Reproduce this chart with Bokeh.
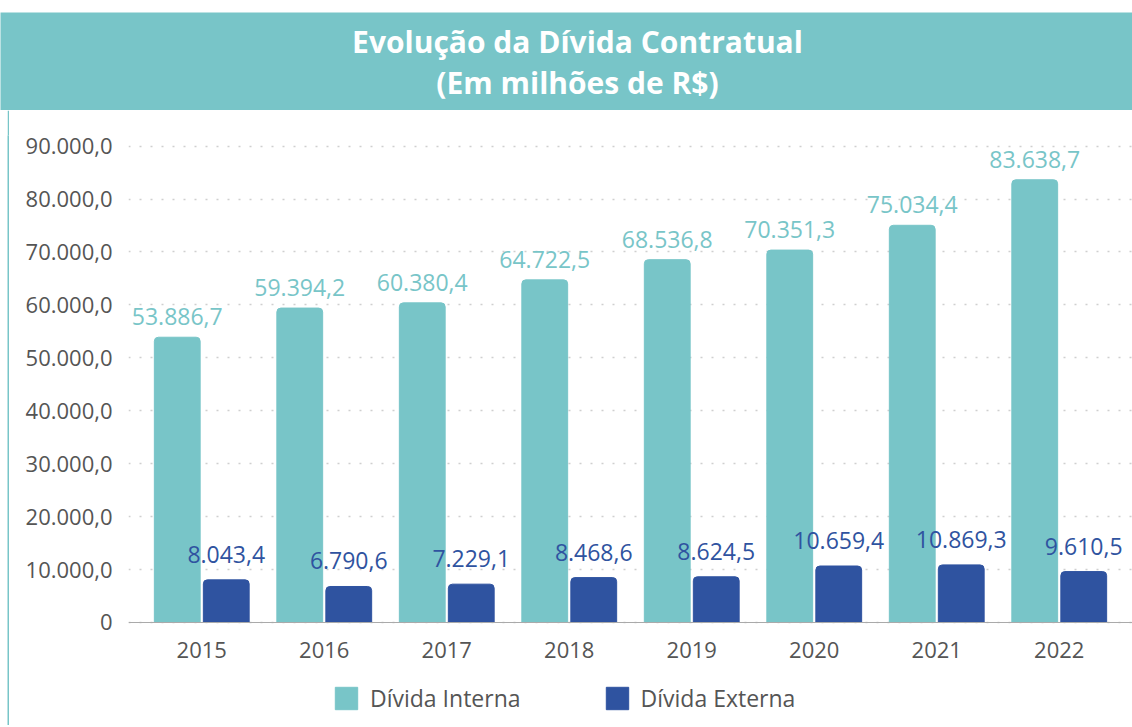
from bokeh.plotting import figure
from bokeh.models import (ColumnDataSource, FactorRange, Range1d, FixedTicker,
                          Legend, LegendItem, LabelSet, Spacer)
from bokeh.transform import dodge
from bokeh.layouts import column, row
from bokeh.core.properties import value
from bokeh.embed import file_html
from bokeh.resources import INLINE

years = ["2015", "2016", "2017", "2018", "2019", "2020", "2021", "2022"]
interna = [53886.7, 59394.2, 60380.4, 64722.5, 68536.8, 70351.3, 75034.4, 83638.7]
externa = [8043.4, 6790.6, 7229.1, 8468.6, 8624.5, 10659.4, 10869.3, 9610.5]
interna_labels = ["53.886,7", "59.394,2", "60.380,4", "64.722,5", "68.536,8", "70.351,3", "75.034,4", "83.638,7"]
externa_labels = ["8.043,4", "6.790,6", "7.229,1", "8.468,6", "8.624,5", "10.659,4", "10.869,3", "9.610,5"]
y_ticks = [0, 10000, 20000, 30000, 40000, 50000, 60000, 70000, 80000, 90000]
y_tick_labels = ["0", "10.000,0", "20.000,0", "30.000,0", "40.000,0", "50.000,0",
                 "60.000,0", "70.000,0", "80.000,0", "90.000,0"]
series_names = ["Dívida Interna", "Dívida Externa"]
title_lines = ["Evolução da Dívida Contratual", "(Em milhões de R$)"]

TEAL = "#78C5C8"
BLUE = "#2F53A0"
GRAY = "#555555"
FONT = "Open Sans"

src = ColumnDataSource(dict(years=years, interna=interna, externa=externa,
                            il=interna_labels, el=externa_labels))

# ---- banner ----
banner = figure(width=1132, height=110, x_range=Range1d(0, 1132), y_range=Range1d(0, 98),
                x_axis_type=None, y_axis_type=None, toolbar_location=None,
                output_backend="svg", min_border_top=12, min_border_left=0,
                min_border_right=0, min_border_bottom=0)
banner.background_fill_color = TEAL
banner.border_fill_color = "white"
banner.outline_line_color = None
banner.grid.visible = False
bsrc = ColumnDataSource(dict(x=[577, 577], y=[69, 28], t=title_lines))
banner.text(x="x", y="y", text="t", source=bsrc, text_color="white",
            text_font=value(FONT), text_font_style="bold", text_font_size="30px",
            text_align="center", text_baseline="middle")

# ---- left strip ----
strip = figure(width=2, height=615, x_axis_type=None, y_axis_type=None,
               toolbar_location=None, output_backend="svg", min_border=0)
strip.background_fill_color = TEAL
strip.border_fill_color = TEAL
strip.outline_line_color = None
strip.grid.visible = False

# ---- main chart ----
p = figure(width=1123, height=615,
           x_range=FactorRange(*years, range_padding=0.0245),
           y_range=Range1d(-19474, 92000), toolbar_location=None, output_backend="svg",
           min_border_left=119, min_border_right=0, min_border_top=25,
           min_border_bottom=0)
p.background_fill_color = "white"
p.border_fill_color = "white"
p.outline_line_color = None

r1 = p.vbar(x=dodge("years", -0.2, range=p.x_range), top="interna", width=0.374,
            source=src, color=TEAL, border_radius=(4, 4, 0, 0))
r2 = p.vbar(x=dodge("years", 0.2, range=p.x_range), top="externa", width=0.374,
            source=src, color=BLUE, border_radius=(4, 4, 0, 0))

p.add_layout(LabelSet(x=dodge("years", -0.2, range=p.x_range), y="interna", text="il",
                      source=src, text_color=TEAL, text_font=value(FONT),
                      text_font_size="23px", text_align="center",
                      text_baseline="alphabetic", y_offset=12))
p.add_layout(LabelSet(x=dodge("years", 0.2, range=p.x_range), y="externa", text="el",
                      source=src, text_color=BLUE, text_font=value(FONT),
                      text_font_size="23px", text_align="center",
                      text_baseline="alphabetic", y_offset=17))

p.xgrid.visible = False
p.ygrid.grid_line_color = "#cfcfcf"
p.ygrid.grid_line_dash = "2 9"
p.ygrid.grid_line_width = 1.5

p.yaxis.ticker = FixedTicker(ticks=y_ticks)
p.yaxis.major_label_overrides = {t: l for t, l in zip(y_ticks, y_tick_labels)}
p.yaxis.axis_line_color = None
p.yaxis.major_tick_line_color = None
p.yaxis.minor_tick_line_color = None
p.yaxis.major_label_standoff = 10
p.yaxis.major_label_text_font = FONT
p.yaxis.major_label_text_font_size = "22px"
p.yaxis.major_label_text_color = GRAY

p.xaxis.fixed_location = 0
p.xaxis.axis_line_color = "#aaaaaa"
p.xaxis.major_tick_line_color = None
p.xaxis.minor_tick_line_color = None
p.xaxis.major_label_standoff = 14
p.xaxis.major_label_text_font = FONT
p.xaxis.major_label_text_font_size = "22px"
p.xaxis.major_label_text_color = GRAY

legend = Legend(items=[LegendItem(label=series_names[0], renderers=[r1]),
                       LegendItem(label=series_names[1], renderers=[r2])],
                orientation="horizontal", location=(204, 11),
                glyph_width=28, glyph_height=28, label_standoff=10, spacing=82,
                label_text_font=FONT, label_text_font_size="23px",
                label_text_color=GRAY, border_line_color=None,
                padding=0, margin=0, background_fill_alpha=0)
p.add_layout(legend)

layout = column(banner, row(Spacer(width=7, height=615), strip, p, spacing=0), spacing=0)

open("out.html", "w").write(file_html(layout, INLINE))
